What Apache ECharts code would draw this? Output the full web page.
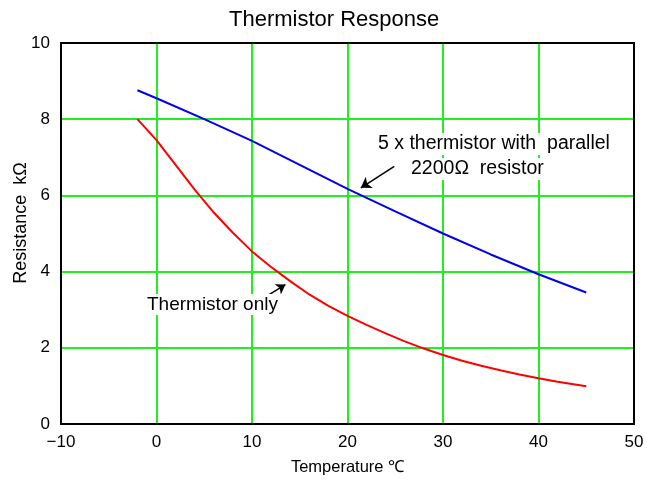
<!DOCTYPE html>
<html><head><meta charset="utf-8">
<script src="https://cdn.jsdelivr.net/npm/echarts@6/dist/echarts.min.js"></script>
<style>html,body{margin:0;padding:0;background:#fff}#c{width:647px;height:481px}</style>
</head><body><div id="c"></div>
<script>
// Data
const redX = [-2, 0, 2, 4, 6, 8, 10, 12, 14, 16, 18, 20, 22, 24, 26, 28, 30, 32, 34, 36, 38, 40, 42, 44, 45];
const redY = [8.0, 7.45, 6.8, 6.15, 5.55, 5.02, 4.53, 4.12, 3.75, 3.4, 3.1, 2.84, 2.6, 2.38, 2.17, 1.98, 1.81, 1.66, 1.53, 1.41, 1.3, 1.2, 1.11, 1.03, 0.99];
const blueX = [-2, 0, 5, 10, 15, 20, 25, 30, 35, 40, 45];
const blueY = [8.76, 8.55, 8.0, 7.43, 6.8, 6.17, 5.58, 5.0, 4.45, 3.93, 3.45];
const xTicks = [-10, 0, 10, 20, 30, 40, 50];
const yTicks = [0, 2, 4, 6, 8, 10];
const titleText = 'Thermistor Response';
const xName = 'Temperature \u2103';
const yName = 'Resistance  k\u03a9';
const blueNote = ['5 x thermistor with  parallel', '2200\u03a9  resistor'];
const redNote = 'Thermistor only';
const blueArrow = [[24.9, 6.76], [21.4, 6.2]];
const redArrow = [[11.75, 3.39], [13.5, 3.66]];

const zip = (a, b) => a.map((v, i) => [v, b[i]]);
const font = '"Liberation Sans", Arial, sans-serif';
const black = {show: true, onZero: false, lineStyle: {color: '#000', width: 2}};
const chart = echarts.init(document.getElementById('c'), null, {renderer: 'canvas'});
chart.setOption({
  animation: false,
  backgroundColor: '#fff',
  title: {text: titleText, left: 224, top: 4, textStyle: {fontFamily: font, fontWeight: 'normal', fontSize: 22, color: '#000'}},
  grid: {left: 61, right: 13, top: 43, bottom: 51, show: false},
  xAxis: [{
    type: 'value', min: xTicks[0], max: xTicks[xTicks.length - 1], interval: 10,
    name: xName, nameLocation: 'middle', nameGap: 35,
    nameTextStyle: {fontFamily: font, fontSize: 16.5, color: '#000'},
    axisLine: black, axisTick: {show: false},
    axisLabel: {fontFamily: font, fontSize: 17, color: '#000', margin: 10, formatter: v => v < 0 ? '\u2212' + Math.abs(v) : String(v)},
    splitLine: {show: true, lineStyle: {color: '#22ee22', width: 2}}
  }, {
    type: 'value', position: 'top', min: xTicks[0], max: xTicks[xTicks.length - 1], interval: 10,
    axisLine: black, axisTick: {show: false}, axisLabel: {show: false}, splitLine: {show: false}
  }],
  yAxis: [{
    type: 'value', min: yTicks[0], max: yTicks[yTicks.length - 1], interval: 2,
    axisLine: black, axisTick: {show: false},
    axisLabel: {fontFamily: font, fontSize: 17, color: '#000', margin: 11},
    splitLine: {show: true, lineStyle: {color: '#22ee22', width: 2}}
  }, {
    type: 'value', position: 'right', min: yTicks[0], max: yTicks[yTicks.length - 1], interval: 2,
    axisLine: black, axisTick: {show: false}, axisLabel: {show: false}, splitLine: {show: false}
  }],
  series: [
    {
      type: 'line', data: zip(blueX, blueY), smooth: false, symbol: 'none',
      lineStyle: {color: '#0000ee', width: 2}, z: 3,
      markLine: {
        silent: true, symbol: ['none', 'arrow'], symbolSize: 10,
        lineStyle: {color: '#000', width: 1.5, type: 'solid'},
        label: {show: false},
        data: [[{coord: blueArrow[0]}, {coord: blueArrow[1]}]]
      }
    },
    {
      type: 'line', data: zip(redX, redY), smooth: false, symbol: 'none',
      lineStyle: {color: '#ff0000', width: 2}, z: 3,
      markLine: {
        silent: true, symbol: ['none', 'arrow'], symbolSize: 9,
        lineStyle: {color: '#000', width: 1.5, type: 'solid'},
        label: {show: false},
        data: [[{coord: redArrow[0]}, {coord: redArrow[1]}]]
      }
    }
  ],
  graphic: [
    {type: 'text', x: 376, y: 133, z: 10, style: {text: blueNote[0], font: '19.5px ' + font, fill: '#000', backgroundColor: '#fff', padding: [1, 2]}},
    {type: 'text', x: 409, y: 158, z: 10, style: {text: blueNote[1], font: '19.5px ' + font, fill: '#000', backgroundColor: '#fff', padding: [1, 2]}},
    {type: 'text', x: 145, y: 294, z: 10, style: {text: redNote, font: '19px ' + font, fill: '#000', backgroundColor: '#fff', padding: [1, 2]}},
    {type: 'text', x: 21, y: 223, rotation: Math.PI / 2, style: {text: yName, font: '18px ' + font, fill: '#000', align: 'center', verticalAlign: 'middle'}}
  ]
});
</script></body></html>
